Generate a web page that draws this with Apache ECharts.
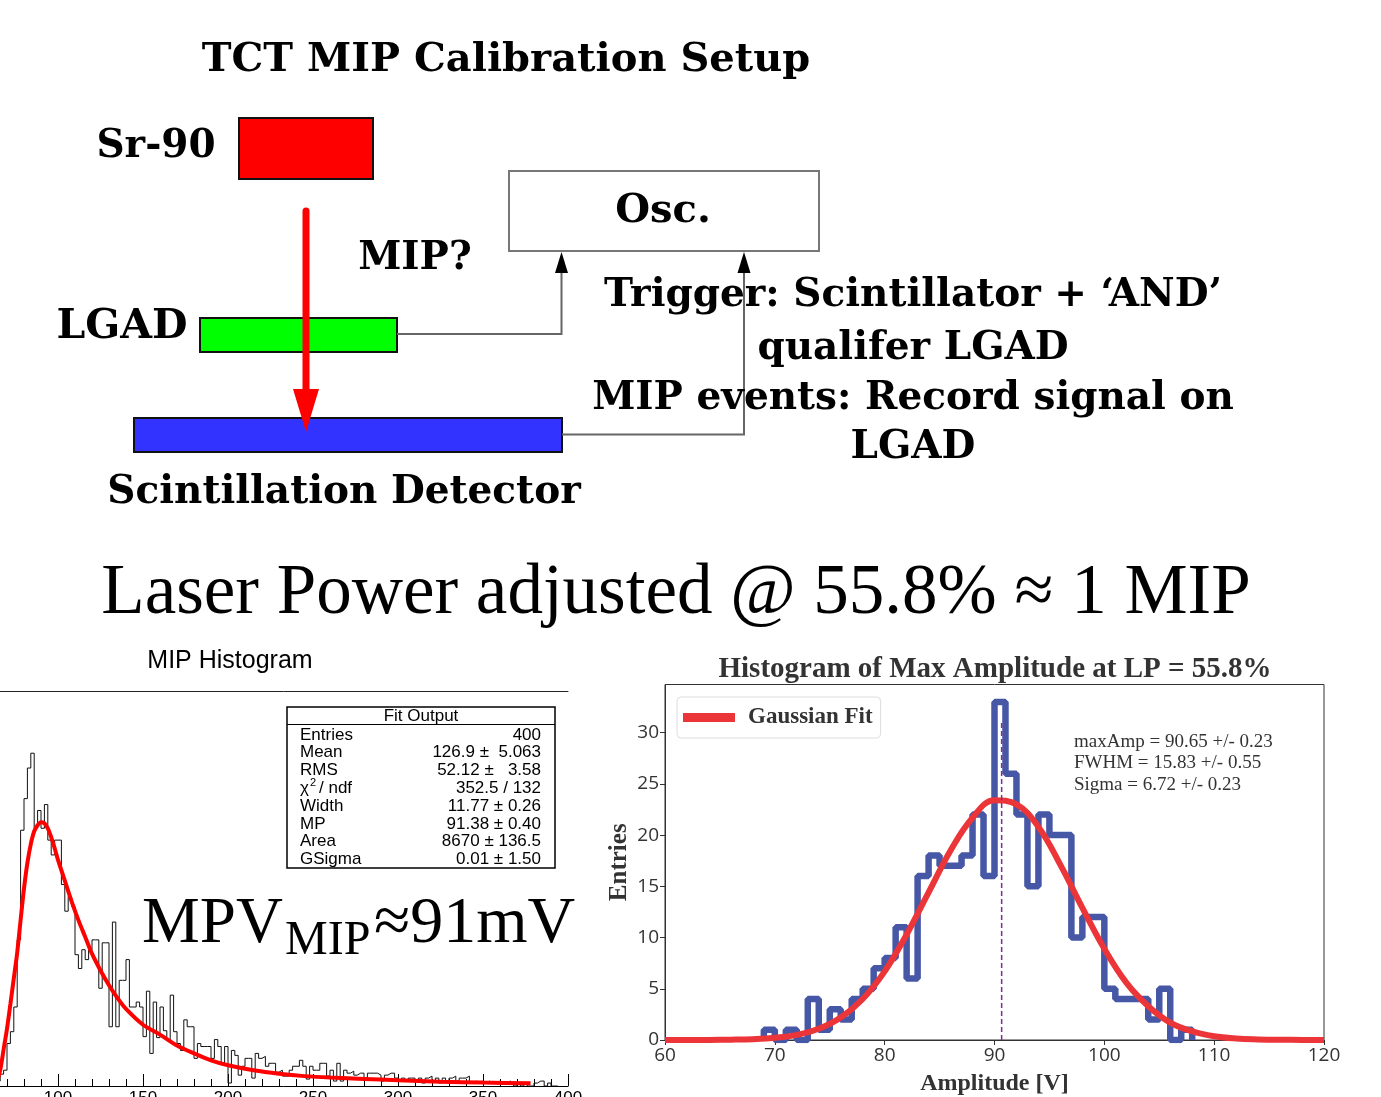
<!DOCTYPE html>
<html><head><meta charset="utf-8">
<script src="https://cdn.jsdelivr.net/npm/echarts@6/dist/echarts.min.js"></script>
<style>html,body{margin:0;padding:0;background:#fff}#c{width:1381px;height:1097px}</style>
</head><body><div id="c"></div>
<script>
// ---------------- DATA ----------------
// Left: MIP histogram (ROOT, Landau fit)
const mipTitle = 'MIP Histogram';
const mipBinStart = 62;
const mipBinWidth = 2;
const mipCounts = [
  0, 0.5, 1.2, 1.6, 4.3, 5.5, 8.0, 14.8, 25.9, 29.1,
  32.2, 33.7, 26.1, 27.9, 26.1, 28.5, 24.9, 23.4, 24.9, 24.9,
  20.4, 17.7, 19.2, 18.2, 13.3, 11.9, 13.8, 12.8, 13.8, 14.8,
  14.8, 9.9, 14.5, 14.5, 6.0, 16.6, 6.0, 10.7, 10.7, 12.8,
  8.0, 8.0, 8.5, 8.0, 5.0, 9.6, 3.3, 8.5, 4.9, 8.0,
  5.6, 4.7, 9.2, 5.5, 4.3, 3.6, 6.7, 6.0, 6.0, 2.8,
  4.3, 4.0, 4.0, 4.0, 2.8, 4.7, 4.0, 2.3, 4.0, 0.3,
  3.6, 3.1, 1.1, 2.0, 2.8, 2.8, 0.8, 3.3, 2.8, 3.0,
  2.0, 2.3, 2.3, 1.4, 1.6, 1.0, 1.0, 1.6, 2.0, 2.0,
  2.6, 2.0, 0.7, 2.0, 1.6, 1.6, 2.3, 2.3, 1.0, 1.6,
  0.5, 2.3, 0.5, 1.6, 1.3, 1.5, 1.1, 1.3, 1.3, 0.8,
  1.3, 1.3, 1.3, 1.1, 0.5, 1.1, 1.3, 1.3, 0.8, 0.5,
  0.8, 0.5, 0.8, 0.8, 0.5, 0.8, 0.3, 0.8, 1.0, 0.5,
  0.8, 0.3, 0.8, 0.5, 0.8, 1.0, 0.5, 0.8, 0.8, 1.0,
  0.3, 0.5, 0.3, 0.5, 0.3, 0.5, 0.3, 0.3, 0.5, 0.3,
  0.3, 0.5, 0.3, 0, 0.3, 0, 0.3, 0, 0, 0.3,
  0.5, 0.5, 0, 0.3, 0, 0
];
const landauX = [64,66,68,70,72,74,76,78,80,82,84,86,88,90,92,94,96,98,100,104,108,112,116,120,125,130,135,140,150,160,170,180,190,200,215,230,245,260,280,300,325,350,378];
const landauY = [0.4,1.6,3.7,5.8,8.3,10.9,13.5,16.8,20.0,22.6,24.5,25.8,26.4,26.7,26.6,26.1,25.2,24.1,22.9,20.8,18.7,16.8,15.1,13.4,11.7,10.2,8.9,7.8,6.2,5.2,4.1,3.3,2.6,2.1,1.6,1.25,1.0,0.85,0.72,0.58,0.44,0.35,0.27];
const fitStatHeader = 'Fit Output';
const fitStatLabels = ['Entries','Mean','RMS','\u03c7\u00b2 / ndf','Width','MP','Area','GSigma'];
const fitStatValues = ['400','126.9 \u00b1  5.063','52.12 \u00b1   3.58','352.5 / 132','11.77 \u00b1 0.26','91.38 \u00b1 0.40','8670 \u00b1 136.5','0.01 \u00b1 1.50'];

// Right: amplitude histogram with Gaussian fit
const ampTitle = 'Histogram of Max Amplitude at LP = 55.8%';
const ampBinStart = 69;
const ampBinWidth = 1;
const ampCounts = [1,0,1,0,4,1,3,2,4,5, 7,8,11,6,16,18,17,17,18,22, 16,33,26,22,15,22,20,20,10,12, 12,5,4,4,4,2,5,0,1];
const gaussX = [60,62,64,66,68,70,72,74,76,78,80,82,84,86,88,90,92,94,96,98,100,102,104,106,108,110,112,114,116,118,120];
const gaussY = [0,0,0.01,0.03,0.08,0.21,0.5,1.09,2.19,4.0,6.7,10.3,14.4,18.5,21.7,23.4,23.0,20.8,17.1,12.9,8.9,5.6,3.3,1.7,0.84,0.37,0.15,0.06,0.02,0.01,0];
const gaussMean = 90.65;
const gaussMarkerTop = 31.2;
const gaussStats = ['maxAmp = 90.65 +/- 0.23','FWHM = 15.83 +/- 0.55','Sigma = 6.72 +/- 0.23'];
const ampYTicks = [0,5,10,15,20,25,30];

// ---------------- BUILD ----------------
function stepData(start, width, counts) {
  const pts = [[start, 0]];
  counts.forEach((c, i) => pts.push([start + i * width, c]));
  pts.push([start + counts.length * width, 0]);
  return pts;
}
const zip = (xs, ys) => xs.map((x, i) => [x, ys[i]]);

const DIA = '"DejaVu Serif", serif';
const SER = '"Liberation Serif", "Times New Roman", serif';
const SAN = '"Liberation Sans", Arial, sans-serif';
const G = [];
function txt(x, y, s, font, align, fill) {
  G.push({ type: 'text', x: x, y: y, z: 50,
    style: { text: s, font: font, fill: fill || '#000', align: align || 'center', verticalAlign: 'middle' } });
}
function rect(x, y, w, h, fill, stroke, lw) {
  G.push({ type: 'rect', z: 40, shape: { x: x, y: y, width: w, height: h },
    style: { fill: fill, stroke: stroke, lineWidth: lw } });
}
function poly(points, stroke, lw) {
  G.push({ type: 'polyline', z: 41, shape: { points: points }, style: { stroke: stroke, lineWidth: lw, fill: null } });
}
function tri(points, fill) {
  G.push({ type: 'polygon', z: 42, shape: { points: points }, style: { fill: fill } });
}

// --- diagram ---
txt(506, 61, 'TCT MIP Calibration Setup', 'bold 40px ' + DIA);
txt(156, 147, 'Sr-90', 'bold 39px ' + DIA);
rect(239, 118, 134, 61, '#ff0000', '#111', 2);
rect(509, 171, 310, 80, '#ffffff', '#777', 2);
txt(663, 212, 'Osc.', 'bold 40px ' + DIA);
txt(415, 259, 'MIP?', 'bold 39px ' + DIA);
txt(122, 327, 'LGAD', 'bold 41px ' + DIA);
rect(200, 318, 197, 34, '#00ff00', '#111', 2);
rect(134, 418, 428, 34, '#3333ff', '#111', 2);
poly([[397, 334], [561.5, 334], [561.5, 270]], '#666', 2);
tri([[561.5, 252], [555, 273], [568, 273]], '#000');
poly([[562, 434.5], [744, 434.5], [744, 270]], '#666', 2);
tri([[744, 252], [737.5, 273], [750.5, 273]], '#000');
G.push({ type: 'line', z: 45, shape: { x1: 306, y1: 211, x2: 306, y2: 392 },
  style: { stroke: '#ff0000', lineWidth: 7, lineCap: 'round' } });
G.push({ type: 'polygon', z: 45, shape: { points: [[293, 389], [319, 389], [306, 432]] }, style: { fill: '#ff0000' } });
txt(344, 493, 'Scintillation Detector', 'bold 39px ' + DIA);
txt(913, 296, 'Trigger: Scintillator + \u2018AND\u2019', 'bold 39px ' + DIA);
txt(913, 349, 'qualifer LGAD', 'bold 39px ' + DIA);
txt(913, 399, 'MIP events: Record signal on', 'bold 39px ' + DIA);
txt(913, 448, 'LGAD', 'bold 39px ' + DIA);

// --- headline ---
txt(676, 594, 'Laser Power adjusted @ 55.8% \u2248 1 MIP', '71px ' + SER);

// --- left panel texts ---
txt(230, 661, mipTitle, '25px ' + SAN);
rect(287, 707, 268, 161, 'rgba(255,255,255,0)', '#000', 1.5);
poly([[287, 724.5], [555, 724.5]], '#000', 1.2);
txt(421, 716, fitStatHeader, '17px ' + SAN);
fitStatLabels.forEach((lab, i) => {
  const y = 735 + i * 17.8;
  if (i === 3) {
    txt(300, y, '\u03c7', '17px ' + SAN, 'left');
    txt(310, y - 5, '2', '11px ' + SAN, 'left');
    txt(319, y, '/ ndf', '17px ' + SAN, 'left');
  } else {
    txt(300, y, lab, '17px ' + SAN, 'left');
  }
  txt(541, y, fitStatValues[i], '17px ' + SAN, 'right');
});
txt(142, 925, 'MPV', '65px ' + SER, 'left');
txt(285, 941, 'MIP', '48px ' + SER, 'left');
txt(374, 925, '\u224891mV', '66px ' + SER, 'left');

// --- right panel texts ---
txt(995, 670, ampTitle, 'bold 29px ' + SER, 'center', '#333');
gaussStats.forEach((s, i) => txt(1074, 742 + i * 21.5, s, '19px ' + SER, 'left', '#333'));

const option = {
  animation: false,
  backgroundColor: '#fff',
  grid: [
    { left: -112, top: 691, width: 680, height: 395, outerBoundsMode: 'none', containLabel: false },
    { left: 665, top: 684.5, width: 659, height: 355.5, show: true, borderColor: '#333', borderWidth: 1,
      outerBoundsMode: 'none', containLabel: false }
  ],
  xAxis: [
    { gridIndex: 0, type: 'value', min: 0, max: 400, interval: 50,
      axisLine: { lineStyle: { color: '#000', width: 1 } },
      axisTick: { inside: true, length: 12, lineStyle: { color: '#000' } },
      minorTick: { show: true, splitNumber: 5, length: 7, lineStyle: { color: '#000' } },
      axisLabel: { margin: 4, fontSize: 17, color: '#000', fontFamily: 'Liberation Sans' },
      splitLine: { show: false } },
    { gridIndex: 0, type: 'value', min: 0, max: 400, position: 'top',
      axisLine: { lineStyle: { color: '#222', width: 1 } },
      axisTick: { show: false }, axisLabel: { show: false }, splitLine: { show: false } },
    { gridIndex: 1, type: 'value', min: 60, max: 120, interval: 10,
      name: 'Amplitude [V]', nameLocation: 'middle', nameGap: 32,
      nameTextStyle: { fontFamily: 'Liberation Serif', fontWeight: 'bold', fontSize: 24, color: '#333' },
      axisLine: { onZero: false, lineStyle: { color: '#333', width: 1 } },
      axisTick: { length: 5, lineStyle: { color: '#333' } },
      axisLabel: { margin: 6, fontSize: 19, color: '#333', fontFamily: 'Open Sans' },
      splitLine: { show: false } }
  ],
  yAxis: [
    { gridIndex: 0, type: 'value', min: 0, max: 40, show: false, splitLine: { show: false } },
    { gridIndex: 1, type: 'value', min: 0, max: 34.7, interval: 5,
      name: 'Entries', nameLocation: 'middle', nameGap: 33, nameRotate: 90,
      nameTextStyle: { fontFamily: 'Liberation Serif', fontWeight: 'bold', fontSize: 25, color: '#333' },
      axisLine: { show: true, onZero: false, lineStyle: { color: '#333', width: 1 } },
      axisTick: { show: true, length: 5, customValues: ampYTicks, lineStyle: { color: '#333' } },
      axisLabel: { margin: 6, fontSize: 19, color: '#333', fontFamily: 'Open Sans', customValues: ampYTicks },
      splitLine: { show: false } }
  ],
  legend: {
    data: ['Gaussian Fit'], left: 677, top: 697, icon: 'rect', itemWidth: 52, itemHeight: 9,
    selectedMode: false, backgroundColor: '#fff', borderColor: '#ddd', borderWidth: 1, borderRadius: 4,
    padding: [9, 8, 9, 6],
    textStyle: { fontFamily: 'Liberation Serif', fontWeight: 'bold', fontSize: 23, color: '#333', padding: [0, 0, 0, 8] }
  },
  series: [
    { name: 'MIP histogram', type: 'line', xAxisIndex: 0, yAxisIndex: 0, step: 'end', symbol: 'none',
      data: stepData(mipBinStart, mipBinWidth, mipCounts), lineStyle: { color: '#111', width: 1 }, z: 2 },
    { name: 'Landau fit', type: 'line', xAxisIndex: 0, yAxisIndex: 0, smooth: 0.3, symbol: 'none',
      data: zip(landauX, landauY), lineStyle: { color: '#ff0000', width: 4 }, z: 3 },
    { name: 'Amplitude histogram', type: 'line', xAxisIndex: 2, yAxisIndex: 1, step: 'end', symbol: 'none',
      data: stepData(ampBinStart, ampBinWidth, ampCounts), lineStyle: { color: '#4657a6', width: 6.5 },
      itemStyle: { color: '#4657a6' }, z: 2 },
    { name: 'Gaussian Fit', type: 'line', xAxisIndex: 2, yAxisIndex: 1, smooth: 0.4, symbol: 'none',
      data: zip(gaussX, gaussY), lineStyle: { color: '#ec3539', width: 6 }, itemStyle: { color: '#ec3539' }, z: 3 },
    { name: 'maxAmp', type: 'line', xAxisIndex: 2, yAxisIndex: 1, symbol: 'none',
      data: [[gaussMean, 0], [gaussMean, gaussMarkerTop]],
      lineStyle: { color: '#7b2e8e', width: 1.5, type: [5, 3] }, z: 4 }
  ],
  graphic: { elements: G }
};
const chart = echarts.init(document.getElementById('c'));
chart.setOption(option);
</script>
</body></html>
